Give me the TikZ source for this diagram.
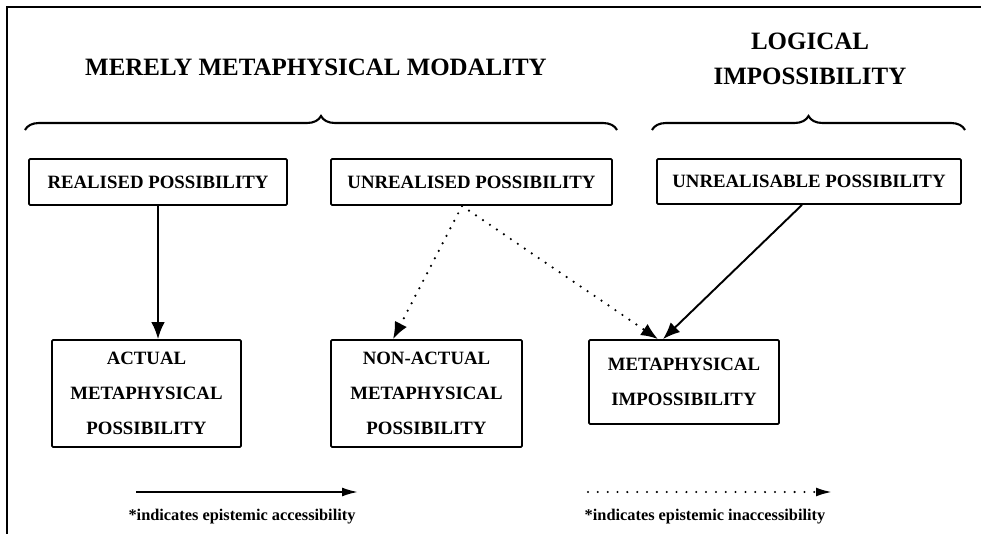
\documentclass[tikz,border=0pt]{standalone}
\usepackage{fontspec}
\setmainfont{Liberation Serif}
\usetikzlibrary{arrows.meta, decorations.pathreplacing}
\tikzstyle{canvas} = [x = .02cm, y = -.02cm]
\tikzstyle{frameLine} = [line width = 1pt]
\tikzstyle{boxStyle} = [draw, line width = 1pt, rounded corners = .6pt, inner sep = 0pt, align = center, font = \fontsize{10.7}{19.8}\selectfont\bfseries]
\tikzstyle{titleText} = [align = center, font = \fontsize{14.2}{20}\selectfont\bfseries]
\tikzstyle{legendText} = [font = \fontsize{9.3}{11}\selectfont\bfseries]
\tikzstyle{braceStyle} = [line width = 1.2pt, decorate, decoration = {brace, amplitude = .28cm}]
\tikzstyle{solidArrow} = [line width = 1.1pt, -{Latex[length = .34cm, width = .27cm]}]
\tikzstyle{dottedArrow} = [solidArrow, line width = 1.4pt, line cap = round, dash pattern = on 0pt off 4.8pt]
\tikzstyle{legendSolid} = [line width = 1.1pt, -{Latex[length = .32cm, width = .18cm]}]
\tikzstyle{legendDotted} = [legendSolid, line width = 1.3pt, line cap = round, dash pattern = on 0pt off 5.6pt]
\newcommand{\labelBox}[6]{\node [boxStyle, minimum width = #4*.02cm, minimum height = #5*.02cm] (#1) at (#2,#3) {#6};}
\begin{document}
\begin{tikzpicture}[canvas]
  \useasboundingbox (0,0) rectangle (981,534);
  \draw [frameLine] (7,534) -- (7,7) -- (981,7);

  \node [titleText] (merelyTitle) at (316,67) {MERELY METAPHYSICAL MODALITY};
  \node [titleText] (logicalTitle) at (810,59) {LOGICAL\\IMPOSSIBILITY};
  \draw [braceStyle] (25,130) -- (617,130);
  \draw [braceStyle] (652,130) -- (965,130);

  \labelBox{realised}{158}{182}{258}{46}{REALISED POSSIBILITY}
  \labelBox{unrealised}{471.5}{182}{281}{46}{UNREALISED POSSIBILITY}
  \labelBox{unrealisable}{809}{181.5}{304}{45}{UNREALISABLE POSSIBILITY}
  \labelBox{actual}{146.5}{393.5}{189}{107}{ACTUAL\\METAPHYSICAL\\POSSIBILITY}
  \labelBox{nonActual}{426.5}{393.5}{191}{107}{NON-ACTUAL\\METAPHYSICAL\\POSSIBILITY}
  \labelBox{impossible}{684}{382}{190}{84}{METAPHYSICAL\\IMPOSSIBILITY}

  \draw [solidArrow] (realised.south) -- (realised.south |- actual.north);
  \draw [dottedArrow] ([xshift = -.19cm]unrealised.south) -- ([xshift = -.67cm]nonActual.north);
  \draw [dottedArrow] ([xshift = -.19cm]unrealised.south) -- ([xshift = -.52cm]impossible.north);
  \draw [solidArrow] ([xshift = -.14cm]unrealisable.south) -- ([xshift = -.42cm]impossible.north);

  \coordinate (solidStart) at (136,492);
  \coordinate (solidEnd) at (358,492);
  \coordinate (dottedStart) at (588,492);
  \coordinate (dottedEnd) at (832,492);
  \draw [legendSolid] (solidStart) -- (solidEnd);
  \draw [legendDotted] (dottedStart) -- (dottedEnd);
  \node [legendText] (solidNote) at (242,517) {*indicates epistemic accessibility};
  \node [legendText] (dottedNote) at (705,517) {*indicates epistemic inaccessibility};
\end{tikzpicture}
\end{document}
